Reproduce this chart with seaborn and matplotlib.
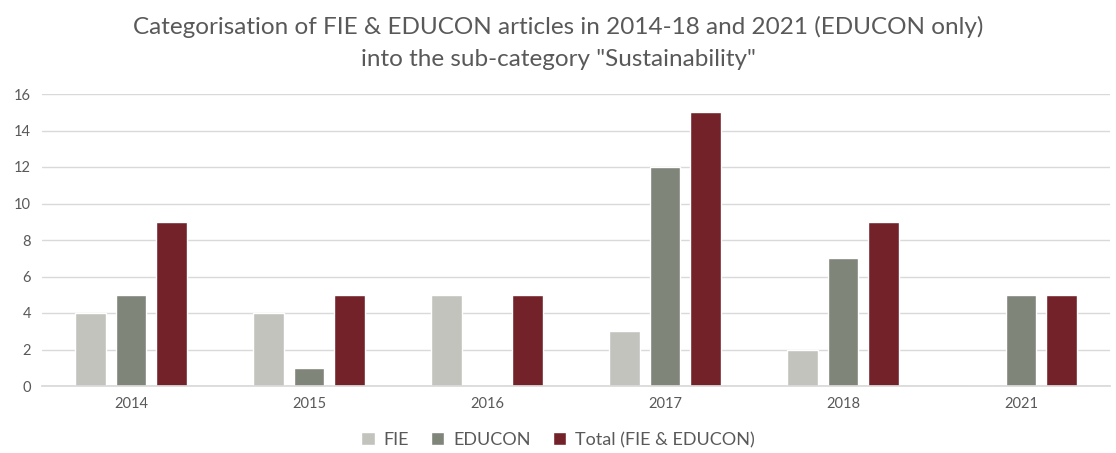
import matplotlib
matplotlib.use("Agg")
import matplotlib.pyplot as plt
import seaborn as sns
import pandas as pd

years = ["2014", "2015", "2016", "2017", "2018", "2021"]
fie = [4, 4, 5, 3, 2, 0]
educon = [5, 1, 0, 12, 7, 5]
total = [9, 5, 5, 15, 9, 5]
series_names = ["FIE", "EDUCON", "Total (FIE & EDUCON)"]
colors = ["#C3C3BE", "#80857A", "#73222A"]

rows = []
for name, vals in zip(series_names, [fie, educon, total]):
    for y, v in zip(years, vals):
        rows.append({"Year": y, "Series": name, "Count": v})
df = pd.DataFrame(rows)

sns.set_theme(style="white")
plt.rcParams['font.family'] = ['Lato', 'DejaVu Sans']

fig = plt.figure(figsize=(11.16, 4.53), dpi=100)
ax = fig.add_axes([42/1116, 1-386/453, (1110-42)/1116, (386-94)/453])

sns.barplot(data=df, x="Year", y="Count", hue="Series", palette=colors,
            width=0.68, gap=0.24, ax=ax, legend=True, saturation=1)

ax.set_ylim(0, 16)
ax.set_yticks(range(0, 17, 2))
ax.yaxis.grid(True, color="#D9D9D9", linewidth=1)
ax.set_axisbelow(True)
for s in ["top", "right", "left"]:
    ax.spines[s].set_visible(False)
ax.spines["bottom"].set_color("#D9D9D9")
ax.tick_params(axis="both", length=0, labelsize=10.5, colors="#595959", pad=8)
ax.set_xlabel("")
ax.set_ylabel("")

fig.text(0.5, 1-27/453, "Categorisation of FIE & EDUCON articles in 2014-18 and 2021 (EDUCON only)",
         ha="center", va="center", fontsize=17.5, color="#595959")
fig.text(0.5, 1-60/453, "into the sub-category \"Sustainability\"",
         ha="center", va="center", fontsize=17.5, color="#595959")

ax.legend_.remove()
handles, labels = ax.get_legend_handles_labels()
fig.legend(handles, labels, loc="center", bbox_to_anchor=(0.5, 1-440/453), ncol=3,
           frameon=False, fontsize=13, handlelength=0.75, handleheight=0.75,
           columnspacing=1.2, handletextpad=0.5, labelcolor="#595959")

fig.savefig("out.png", dpi=100)
